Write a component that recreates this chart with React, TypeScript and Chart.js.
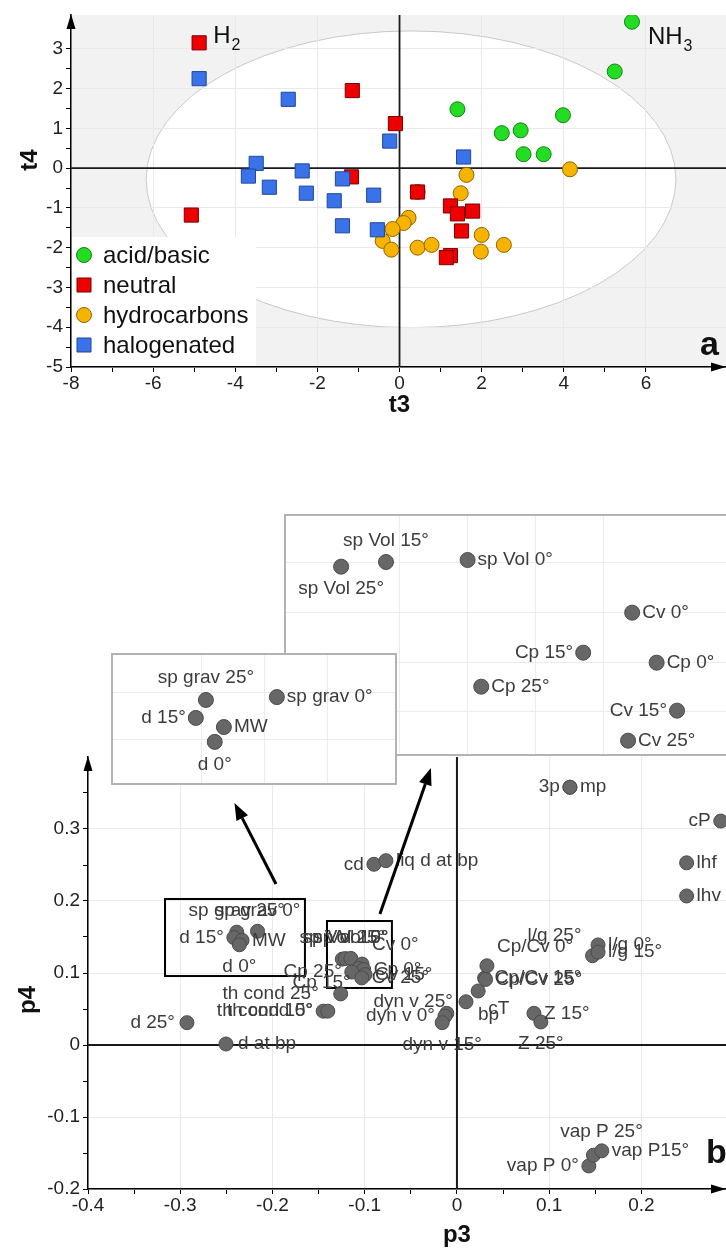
import React, { useEffect, useRef } from 'react';
import { Chart, registerables } from 'chart.js';

Chart.register(...registerables);

const FONT = "'Liberation Sans', Arial, Helvetica, sans-serif";
Chart.defaults.font.family = FONT;

// ---------------- Panel a : score plot t3 / t4 ----------------
const acidT3 = [5.66, 5.24, 1.41, 2.49, 2.95, 3.98, 3.02, 3.51];
const acidT4 = [3.68, 2.43, 1.48, 0.88, 0.95, 1.33, 0.35, 0.35];
const neutralT3 = [-4.88, -1.15, -0.1, -1.17, -5.07, 0.44, 1.24, 1.41, 1.78, 1.51, 1.24, 1.14];
const neutralT4 = [3.15, 1.95, 1.12, -0.22, -1.18, -0.6, -0.95, -1.15, -1.08, -1.58, -2.2, -2.25];
const hydroT3 = [4.15, 1.63, 1.49, 0.44, 0.22, 0.1, -0.17, -0.41, -0.2, 0.44, 0.78, 2.0, 1.98, 2.54];
const hydroT4 = [-0.03, -0.17, -0.63, -0.6, -1.25, -1.38, -1.53, -1.83, -2.05, -2.0, -1.93, -1.68, -2.1, -1.93];
const haloT3 = [-4.88, -2.71, -0.24, 1.56, -3.49, -3.68, -2.37, -1.39, -3.17, -2.27, -1.59, -0.63, -1.39, -0.54];
const haloT4 = [2.25, 1.73, 0.68, 0.28, 0.12, -0.2, -0.07, -0.27, -0.48, -0.63, -0.82, -0.68, -1.45, -1.55];
const classNames = ['acid/basic', 'neutral', 'hydrocarbons', 'halogenated'];
const ellipseCenter = [0.28, -0.28];
const ellipseRadii = [6.45, 3.73];
const aXRange = [-8, 7.95];
const aYRange = [-5, 3.85];

// ---------------- Panel b : loading plot p3 / p4 ----------------
const varNames = [
  'sp grav 25°', 'sp grav 0°', 'd 15°', 'MW', 'd 0°',
  'sp Vol 25°', 'sp Vol 15°', 'sp Vol 0°', 'Cv 0°', 'Cp 15°', 'Cp 0°', 'Cp 25°', 'Cv 15°', 'Cv 25°',
  'th cond 25°', 'th cond 15°', 'th cond 0°', 'd 25°', 'd at bp', 'cd', 'liq d at bp',
  'dyn v 25°', 'dyn v 0°', 'dyn v 15°', 'bp', 'cT', 'Cp/Cv 15°', 'Cp/Cv 25°', 'Cp/Cv 0°',
  'l/g 25°', 'l/g 0°', 'l/g 15°', 'Z 15°', 'Z 25°', '3p', 'mp', 'cP', 'lhf', 'lhv',
  'vap P 0°', 'vap P 25°', 'vap P15°',
];
const p3 = [
  -0.2387, -0.2162, -0.2419, -0.233, -0.2359,
  -0.1243, -0.121, -0.115, -0.1029, -0.1065, -0.1011, -0.114, -0.0996, -0.1032,
  -0.126, -0.145, -0.14, -0.2927, -0.2504, -0.09, -0.077,
  -0.011, -0.013, -0.016, 0.0098, 0.023, 0.03, 0.031, 0.0325,
  0.147, 0.153, 0.153, 0.0835, 0.091, 0.1225, 0.1225, 0.286, 0.249, 0.249,
  0.143, 0.148, 0.157,
];
const p4 = [
  0.1567, 0.1579, 0.1492, 0.1454, 0.1392,
  0.1193, 0.12, 0.1203, 0.1124, 0.1064, 0.1049, 0.1013, 0.0977, 0.0932,
  0.071, 0.047, 0.047, 0.031, 0.0014, 0.251, 0.256,
  0.044, 0.04, 0.031, 0.06, 0.075, 0.093, 0.091, 0.11,
  0.124, 0.139, 0.129, 0.044, 0.032, 0.358, 0.358, 0.311, 0.253, 0.207,
  -0.168, -0.153, -0.147,
];
const bXRange = [-0.4, 0.2917];
const bYRange = [-0.2, 0.4];
const zoomBoxP3 = [[-0.3165, -0.1648], [-0.1409, -0.0705]];
const zoomBoxP4 = [[0.0958, 0.2028], [0.0792, 0.1722]];
const arrowFrom = [[-0.1962, 0.2236], [-0.0835, 0.182]];
const arrowTo = [[-0.2412, 0.3361], [-0.0282, 0.3847]];

const inset1Names = ['sp grav 25°', 'sp grav 0°', 'd 15°', 'MW', 'd 0°'];
const inset1XRange = [-0.2688, -0.1781];
const inset1YRange = [0.1212, 0.1763];
const inset2Names = ['sp Vol 25°', 'sp Vol 15°', 'sp Vol 0°', 'Cv 0°', 'Cp 15°', 'Cp 0°', 'Cp 25°', 'Cv 15°', 'Cv 25°'];
const inset2XRange = [-0.1285, -0.096];
const inset2YRange = [0.0909, 0.1272];

// ---------------- styles (label placement: dx, dy, anchor) ----------------
type Place = [number, number, CanvasTextAlign];
const R: Place = [10, 0, 'left'];
const L: Place = [-10, 0, 'right'];
const T: Place = [0, -21, 'center'];
const B: Place = [0, 22, 'center'];
const mainPlaces: Place[] = [
  T, T, L, R, B,
  T, T, T, [10, -19, 'left'], [-8, 14, 'right'], R, L, R, R,
  [-22, 0, 'right'], [-10, 0, 'right'], [-15, 0, 'right'], [-12, 0, 'right'], [12, 0, 'left'], L, R,
  [6, -12, 'right'], L, B, [12, 13, 'left'], [10, 18, 'left'], R, R, [10, -19, 'left'],
  [-11, -20, 'right'], R, R, R, B, L, R, L, R, R,
  L, [8, -23, 'center'], R,
];
const inset1Places: Place[] = [[0, -22, 'center'], R, L, R, [0, 23, 'center']];
const inset2Places: Place[] = [[0, 22, 'center'], [0, -21, 'center'], R, R, L, R, R, L, R];

const classColors = ['#22dd22', '#ee0000', '#f6b400', '#3a72ea'];
const classBorders = ['#168016', '#7a0000', '#8f6600', '#23479a'];
const classShapes = ['circle', 'rect', 'circle', 'rect'];
const classOrder = [0, 2, 3, 1];
const GRID = '#e9e9e9';

const isMult = (v: number, step: number) => Math.abs(v / step - Math.round(v / step)) < 1e-6;

function arrowHead(ctx: CanvasRenderingContext2D, x1: number, y1: number, x2: number, y2: number, len: number, w: number) {
  const a = Math.atan2(y2 - y1, x2 - x1);
  const bx = x2 - len * Math.cos(a);
  const by = y2 - len * Math.sin(a);
  ctx.beginPath();
  ctx.moveTo(x2, y2);
  ctx.lineTo(bx + (w / 2) * Math.sin(a), by - (w / 2) * Math.cos(a));
  ctx.lineTo(bx - (w / 2) * Math.sin(a), by + (w / 2) * Math.cos(a));
  ctx.closePath();
  ctx.fill();
  return [bx, by];
}

function drawLabels(chart: any, names: string[], places: Place[], size: number) {
  const ctx = chart.ctx as CanvasRenderingContext2D;
  const meta = chart.getDatasetMeta(0);
  ctx.save();
  ctx.font = `${size}px ${FONT}`;
  ctx.fillStyle = '#3c3c3c';
  ctx.textBaseline = 'middle';
  meta.data.forEach((el: any, i: number) => {
    const [dx, dy, al] = places[i];
    ctx.textAlign = al;
    ctx.fillText(names[i], el.x + dx, el.y + dy);
  });
  ctx.restore();
}

function axisArrows(chart: any) {
  const ctx = chart.ctx as CanvasRenderingContext2D;
  const ca = chart.chartArea;
  ctx.save();
  ctx.fillStyle = '#000';
  arrowHead(ctx, ca.left, ca.top + 30, ca.left, ca.top - 1, 15, 9);
  arrowHead(ctx, ca.right - 30, ca.bottom, ca.right, ca.bottom, 15, 9);
  ctx.restore();
}

function zeroLines(chart: any, lw: number) {
  const ctx = chart.ctx as CanvasRenderingContext2D;
  const ca = chart.chartArea;
  const x0 = chart.scales.x.getPixelForValue(0);
  const y0 = chart.scales.y.getPixelForValue(0);
  ctx.save();
  ctx.strokeStyle = '#1a1a1a';
  ctx.lineWidth = lw;
  ctx.beginPath();
  ctx.moveTo(x0, ca.top);
  ctx.lineTo(x0, ca.bottom);
  ctx.moveTo(ca.left, y0);
  ctx.lineTo(ca.right, y0);
  ctx.stroke();
  ctx.restore();
}

function textAt(ctx: CanvasRenderingContext2D, s: string, x: number, y: number, font: string, align: CanvasTextAlign, rot = 0) {
  ctx.save();
  ctx.translate(x, y);
  ctx.rotate(rot);
  ctx.font = font;
  ctx.fillStyle = '#111';
  ctx.textAlign = align;
  ctx.textBaseline = 'middle';
  ctx.fillText(s, 0, 0);
  ctx.restore();
}

function axisConfig(range: number[], step: number, labelStep: number, gridStep: number, size: number, isX: boolean, fmt: (v: number) => string, maxKeep = Infinity) {
  return {
    type: 'linear',
    min: range[0],
    max: range[1],
    afterBuildTicks: (s: any) => {
      s.ticks = s.ticks.filter((t: any) => isMult(t.value, step) && t.value <= maxKeep);
    },
    afterFit: (s: any) => {
      if (isX) s.height = size; else s.width = size;
      s.paddingLeft = 0; s.paddingRight = 0; s.paddingTop = 0; s.paddingBottom = 0;
    },
    ticks: {
      stepSize: step,
      autoSkip: false,
      maxRotation: 0,
      padding: isX ? 0 : 3,
      color: '#222',
      font: { size: 19, family: FONT },
      callback: (v: number) => (isMult(v, labelStep) ? fmt(v) : ''),
    },
    grid: {
      color: (c: any) => (c.tick && isMult(c.tick.value, gridStep) ? GRID : 'rgba(0,0,0,0)'),
      tickColor: '#000',
      tickLength: 5,
      lineWidth: 1,
    },
    border: { color: '#000', width: 1.5 },
  };
}

function makeChartA(canvas: HTMLCanvasElement) {
  const all = [[acidT3, acidT4], [neutralT3, neutralT4], [hydroT3, hydroT4], [haloT3, haloT4]];
  const plugin = {
    id: 'panelA',
    beforeDraw(chart: any) {
      const ctx = chart.ctx as CanvasRenderingContext2D;
      const ca = chart.chartArea;
      const xs = chart.scales.x, ys = chart.scales.y;
      ctx.save();
      ctx.fillStyle = '#fff';
      ctx.fillRect(0, 0, chart.width, chart.height);
      ctx.fillStyle = '#f2f2f2';
      ctx.fillRect(ca.left, ca.top, ca.right - ca.left, ca.bottom - ca.top);
      const cx = xs.getPixelForValue(ellipseCenter[0]);
      const cy = ys.getPixelForValue(ellipseCenter[1]);
      const rx = xs.getPixelForValue(ellipseCenter[0] + ellipseRadii[0]) - cx;
      const ry = cy - ys.getPixelForValue(ellipseCenter[1] + ellipseRadii[1]);
      ctx.beginPath();
      ctx.ellipse(cx, cy, rx, ry, 0, 0, Math.PI * 2);
      ctx.fillStyle = '#fff';
      ctx.fill();
      ctx.strokeStyle = '#c9c9c9';
      ctx.lineWidth = 1;
      ctx.stroke();
      ctx.restore();
    },
    beforeDatasetsDraw(chart: any) {
      zeroLines(chart, 1.8);
    },
    afterDatasetsDraw(chart: any) {
      const ctx = chart.ctx as CanvasRenderingContext2D;
      const ca = chart.chartArea;
      // legend
      ctx.save();
      const top = ca.bottom - 130;
      ctx.fillStyle = '#fff';
      ctx.fillRect(ca.left + 1, top, 184, ca.bottom - top - 1);
      classNames.forEach((name, k) => {
        const y = top + 18 + k * 30;
        const x = ca.left + 13;
        ctx.fillStyle = classColors[k];
        ctx.strokeStyle = classBorders[k];
        ctx.lineWidth = 1;
        ctx.beginPath();
        if (classShapes[k] === 'rect') ctx.rect(x - 7, y - 7, 14, 14);
        else ctx.arc(x, y, 7.5, 0, Math.PI * 2);
        ctx.fill();
        ctx.stroke();
        ctx.fillStyle = '#111';
        ctx.font = `24px ${FONT}`;
        ctx.textAlign = 'left';
        ctx.textBaseline = 'middle';
        ctx.fillText(name, ca.left + 32, y + 1);
      });
      // special compound labels
      const special: [number, number, string, string, number, number][] = [
        [1, 0, 'H', '2', 14, 0],
        [0, 0, 'NH', '3', 16, 22],
      ];
      special.forEach(([ds, idx, main, sub, dx, dy]) => {
        const el = chart.getDatasetMeta(ds).data[idx];
        ctx.fillStyle = '#111';
        ctx.textBaseline = 'alphabetic';
        ctx.textAlign = 'left';
        ctx.font = `24px ${FONT}`;
        ctx.fillText(main, el.x + dx, el.y + dy);
        const w = ctx.measureText(main).width;
        ctx.font = `16px ${FONT}`;
        ctx.fillText(sub, el.x + dx + w + 1, el.y + dy + 7);
      });
      ctx.restore();
      axisArrows(chart);
      textAt(ctx, 't4', 30, 160, `bold 24px ${FONT}`, 'center', -Math.PI / 2);
      textAt(ctx, 't3', chart.scales.x.getPixelForValue(0), 405, `bold 24px ${FONT}`, 'center');
      textAt(ctx, 'a', 700, 346, `bold 34px ${FONT}`, 'left');
    },
  };
  return new Chart(canvas, {
    type: 'scatter',
    data: {
      datasets: classNames.map((name, k) => ({
        label: name,
        data: all[k][0].map((x, i) => ({ x, y: all[k][1][i] })),
        pointStyle: classShapes[k],
        pointRadius: classShapes[k] === 'rect' ? 10 : 7.5,
        pointHoverRadius: classShapes[k] === 'rect' ? 10 : 7.5,
        backgroundColor: classColors[k],
        borderColor: classBorders[k],
        borderWidth: 1,
        order: classOrder[k],
      })),
    } as any,
    options: {
      responsive: false,
      animation: false,
      events: [],
      layout: { autoPadding: false, padding: { top: 15, right: 0, left: 0, bottom: 0 } },
      plugins: { legend: { display: false }, tooltip: { enabled: false } },
      scales: {
        x: axisConfig(aXRange, 1, 2, 2, 53, true, (v) => String(v)),
        y: axisConfig(aYRange, 0.5, 1, 1, 71, false, (v) => String(v)),
      } as any,
    } as any,
    plugins: [plugin],
  });
}

function fmt1(v: number) {
  const r = Math.round(v * 10) / 10;
  return r === 0 ? '0' : String(r);
}

function makeChartB(canvas: HTMLCanvasElement) {
  const plugin = {
    id: 'panelB',
    beforeDraw(chart: any) {
      const ctx = chart.ctx as CanvasRenderingContext2D;
      ctx.save();
      ctx.fillStyle = '#fff';
      ctx.fillRect(0, 0, chart.width, chart.height);
      ctx.restore();
    },
    beforeDatasetsDraw(chart: any) {
      zeroLines(chart, 2);
      const ctx = chart.ctx as CanvasRenderingContext2D;
      const xs = chart.scales.x, ys = chart.scales.y;
      ctx.save();
      ctx.strokeStyle = '#000';
      ctx.lineWidth = 2;
      zoomBoxP3.forEach((bx, k) => {
        const x1 = xs.getPixelForValue(bx[0]);
        const x2 = xs.getPixelForValue(bx[1]);
        const y1 = ys.getPixelForValue(zoomBoxP4[k][1]);
        const y2 = ys.getPixelForValue(zoomBoxP4[k][0]);
        ctx.strokeRect(x1, y1, x2 - x1, y2 - y1);
      });
      ctx.restore();
    },
    afterDatasetsDraw(chart: any) {
      drawLabels(chart, varNames, mainPlaces, 19);
      const ctx = chart.ctx as CanvasRenderingContext2D;
      const xs = chart.scales.x, ys = chart.scales.y;
      ctx.save();
      ctx.strokeStyle = '#000';
      ctx.fillStyle = '#000';
      arrowFrom.forEach((f, k) => {
        const x1 = xs.getPixelForValue(f[0]);
        const y1 = ys.getPixelForValue(f[1]);
        const x2 = xs.getPixelForValue(arrowTo[k][0]);
        const y2 = ys.getPixelForValue(arrowTo[k][1]);
        const [bx, by] = arrowHead(ctx, x1, y1, x2, y2, 17, 13);
        ctx.beginPath();
        ctx.lineWidth = 3;
        ctx.moveTo(x1, y1);
        ctx.lineTo(bx, by);
        ctx.stroke();
      });
      ctx.restore();
      axisArrows(chart);
      textAt(ctx, 'p4', 28, 260, `bold 24px ${FONT}`, 'center', -Math.PI / 2);
      textAt(ctx, 'p3', xs.getPixelForValue(0), 495, `bold 24px ${FONT}`, 'center');
      textAt(ctx, 'b', 706, 414, `bold 34px ${FONT}`, 'left');
    },
  };
  return new Chart(canvas, {
    type: 'scatter',
    data: {
      datasets: [{
        label: 'variables',
        data: p3.map((x, i) => ({ x, y: p4[i] })),
        pointRadius: 7,
        pointHoverRadius: 7,
        backgroundColor: '#676767',
        borderColor: '#4c4c4c',
        borderWidth: 1,
      }],
    } as any,
    options: {
      responsive: false,
      animation: false,
      events: [],
      layout: { autoPadding: false, padding: { top: 17, right: 0, left: 0, bottom: 0 } },
      plugins: { legend: { display: false }, tooltip: { enabled: false } },
      scales: {
        x: axisConfig(bXRange, 0.05, 0.1, 0.1, 59, true, fmt1),
        y: axisConfig(bYRange, 0.05, 0.1, 0.1, 88, false, fmt1, 0.39),
      } as any,
    } as any,
    plugins: [plugin],
  });
}

function makeInset(canvas: HTMLCanvasElement, names: string[], places: Place[], xr: number[], yr: number[], xStep: number, yStep: number, openRight: boolean) {
  const idx = names.map((n) => varNames.indexOf(n));
  const plugin = {
    id: 'inset',
    beforeDraw(chart: any) {
      const ctx = chart.ctx as CanvasRenderingContext2D;
      ctx.save();
      ctx.fillStyle = '#fff';
      ctx.fillRect(0, 0, chart.width, chart.height);
      ctx.restore();
    },
    afterDatasetsDraw(chart: any) {
      drawLabels(chart, names, places, 19);
      const ctx = chart.ctx as CanvasRenderingContext2D;
      const w = chart.width, h = chart.height;
      ctx.save();
      ctx.strokeStyle = '#b3b3b3';
      ctx.lineWidth = 2;
      ctx.beginPath();
      if (openRight) {
        ctx.moveTo(w + 2, 1); ctx.lineTo(1, 1); ctx.lineTo(1, h - 1); ctx.lineTo(w + 2, h - 1);
      } else {
        ctx.rect(1, 1, w - 2, h - 2);
      }
      ctx.stroke();
      ctx.restore();
    },
  };
  const hidden = (range: number[], step: number, isX: boolean) => ({
    type: 'linear',
    min: range[0],
    max: range[1],
    afterBuildTicks: (s: any) => { s.ticks = s.ticks.filter((t: any) => isMult(t.value, step)); },
    afterFit: (s: any) => {
      if (isX) s.height = 0; else s.width = 0;
      s.paddingLeft = 0; s.paddingRight = 0; s.paddingTop = 0; s.paddingBottom = 0;
    },
    ticks: { display: false, stepSize: step, autoSkip: false },
    grid: { color: '#ececec', drawTicks: false, tickLength: 0 },
    border: { display: false },
  });
  return new Chart(canvas, {
    type: 'scatter',
    data: {
      datasets: [{
        label: 'zoom',
        data: idx.map((i) => ({ x: p3[i], y: p4[i] })),
        pointRadius: 7.5,
        pointHoverRadius: 7.5,
        backgroundColor: '#676767',
        borderColor: '#4c4c4c',
        borderWidth: 1,
      }],
    } as any,
    options: {
      responsive: false,
      animation: false,
      events: [],
      layout: { autoPadding: false, padding: 0 },
      plugins: { legend: { display: false }, tooltip: { enabled: false } },
      scales: { x: hidden(xr, xStep, true), y: hidden(yr, yStep, false) } as any,
    } as any,
    plugins: [plugin],
  });
}

export default function App() {
  const aRef = useRef<HTMLCanvasElement>(null);
  const bRef = useRef<HTMLCanvasElement>(null);
  const i1Ref = useRef<HTMLCanvasElement>(null);
  const i2Ref = useRef<HTMLCanvasElement>(null);
  useEffect(() => {
    const charts = [
      makeChartA(aRef.current!),
      makeChartB(bRef.current!),
      makeInset(i2Ref.current!, inset2Names, inset2Places, inset2XRange, inset2YRange, 0.005, 0.0075, true),
      makeInset(i1Ref.current!, inset1Names, inset1Places, inset1XRange, inset1YRange, 0.02, 0.02, false),
    ];
    return () => charts.forEach((c) => c.destroy());
  }, []);
  const abs = (l: number, t: number) => ({ position: 'absolute' as const, left: l, top: t });
  return (
    <div style={{ position: 'absolute', left: 0, top: 0, width: 726, height: 1248, overflow: 'hidden', background: '#fff' }}>
      <canvas ref={aRef} width={726} height={420} style={abs(0, 0)} />
      <canvas ref={bRef} width={726} height={508} style={abs(0, 740)} />
      <canvas ref={i2Ref} width={442} height={242} style={abs(284, 514)} />
      <canvas ref={i1Ref} width={286} height={132} style={abs(111, 653)} />
    </div>
  );
}
